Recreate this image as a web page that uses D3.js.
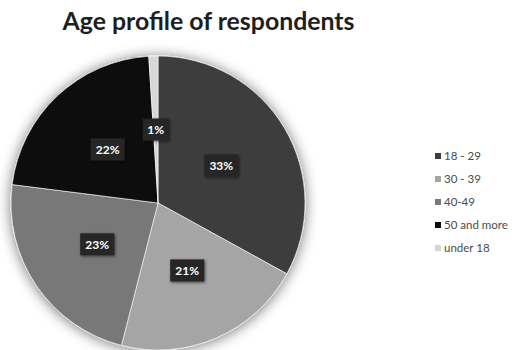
<!DOCTYPE html>
<html>
<head>
<meta charset="utf-8">
<script src="https://cdn.jsdelivr.net/npm/d3@7/dist/d3.min.js"></script>
<style>
  html, body { margin: 0; padding: 0; background: #fff; }
  svg { display: block; }
</style>
</head>
<body>
<svg id="chart" width="514" height="350"></svg>
<script>
// Age groups and their share of respondents (%)
const categories = ["18 - 29", "30 - 39", "40-49", "50 and more", "under 18"];
const shares = [33, 21, 23, 22, 1];
const sliceColors = ["#3e3e3e", "#a5a5a5", "#787878", "#0b0b0b", "#d6d6d6"];
const title = "Age profile of respondents";

const width = 514, height = 350;
const cx = 158, cy = 203, radius = 147;

const svg = d3.select("#chart");
const defs = svg.append("defs");

const pieShadow = defs.append("filter").attr("id", "pieShadow")
  .attr("x", "-20%").attr("y", "-20%").attr("width", "140%").attr("height", "140%");
pieShadow.append("feGaussianBlur").attr("in", "SourceAlpha").attr("stdDeviation", 7).attr("result", "b");
pieShadow.append("feOffset").attr("in", "b").attr("dx", 0).attr("dy", 1).attr("result", "o");
pieShadow.append("feComponentTransfer").attr("in", "o").attr("result", "s")
  .append("feFuncA").attr("type", "linear").attr("slope", 0.55);
const m1 = pieShadow.append("feMerge");
m1.append("feMergeNode").attr("in", "s");
m1.append("feMergeNode").attr("in", "SourceGraphic");

const boxShadow = defs.append("filter").attr("id", "boxShadow")
  .attr("x", "-30%").attr("y", "-40%").attr("width", "160%").attr("height", "180%");
boxShadow.append("feGaussianBlur").attr("in", "SourceAlpha").attr("stdDeviation", 1.5).attr("result", "b");
boxShadow.append("feOffset").attr("in", "b").attr("dx", 1).attr("dy", 1).attr("result", "o");
boxShadow.append("feComponentTransfer").attr("in", "o").attr("result", "s")
  .append("feFuncA").attr("type", "linear").attr("slope", 0.6);
const m2 = boxShadow.append("feMerge");
m2.append("feMergeNode").attr("in", "s");
m2.append("feMergeNode").attr("in", "SourceGraphic");

// Title
svg.append("text")
  .attr("x", 208.5).attr("y", 30)
  .attr("text-anchor", "middle")
  .attr("font-family", "Lato, 'Open Sans', sans-serif")
  .attr("font-weight", "bold")
  .attr("font-size", 24)
  .attr("textLength", 292)
  .attr("lengthAdjust", "spacingAndGlyphs")
  .attr("fill", "#1e1e1e")
  .text(title);

const data = categories.map((c, i) => ({ category: c, value: shares[i], color: sliceColors[i] }));
const pie = d3.pie().value(d => d.value).sort(null);
const arcs = pie(data);
const arc = d3.arc().innerRadius(0).outerRadius(radius);
const labelArc = d3.arc().innerRadius(radius * 0.5).outerRadius(radius * 0.5);

const g = svg.append("g").attr("transform", `translate(${cx},${cy})`);

g.append("g").attr("filter", "url(#pieShadow)")
  .selectAll("path")
  .data(arcs)
  .join("path")
  .attr("d", arc)
  .attr("fill", d => d.data.color)
  .attr("stroke", "#ffffff")
  .attr("stroke-width", 0.6);

// Percentage labels in dark boxes
const labels = g.selectAll("g.lbl")
  .data(arcs)
  .join("g")
  .attr("class", "lbl")
  .attr("transform", d => `translate(${labelArc.centroid(d)})`);

labels.append("rect")
  .attr("x", d => d.data.value < 10 ? -13 : -17)
  .attr("y", -11)
  .attr("width", d => d.data.value < 10 ? 26 : 34)
  .attr("height", 22)
  .attr("fill", "#262626")
  .attr("filter", "url(#boxShadow)");

labels.append("text")
  .attr("text-anchor", "middle")
  .attr("dy", "0.36em")
  .attr("font-family", "Lato, 'Open Sans', sans-serif")
  .attr("font-weight", "bold")
  .attr("font-size", 12)
  .attr("fill", "#ffffff")
  .text(d => d.data.value + "%");

// Legend
const legendY = d3.scalePoint().domain(categories).range([156, 248]);
const legend = svg.append("g");
const items = legend.selectAll("g")
  .data(data)
  .join("g")
  .attr("transform", d => `translate(435,${legendY(d.category)})`);

items.append("rect")
  .attr("x", 0).attr("y", -3)
  .attr("width", 6).attr("height", 6)
  .attr("fill", d => d.color);

items.append("text")
  .attr("x", 9).attr("dy", "0.35em")
  .attr("font-family", "Lato, 'Open Sans', sans-serif")
  .attr("font-size", 11.5)
  .attr("fill", "#4a4a4a")
  .text(d => d.category);
</script>
</body>
</html>
